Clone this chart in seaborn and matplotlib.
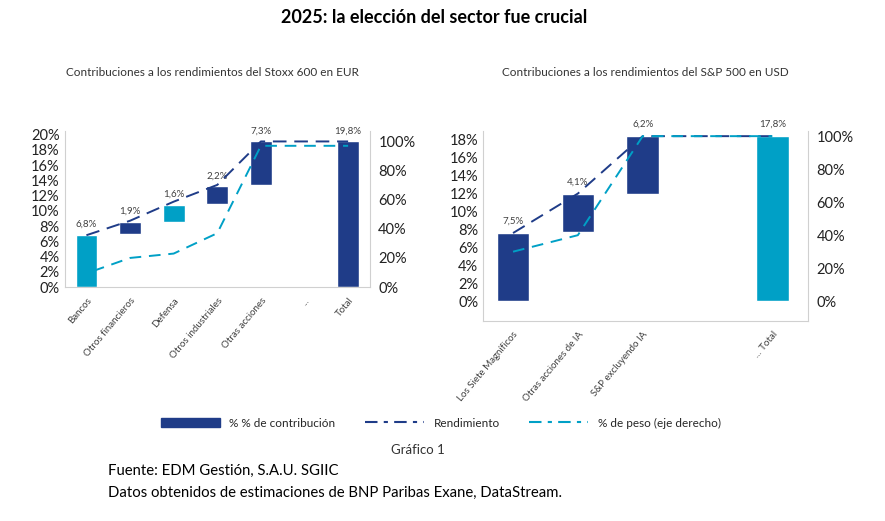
import seaborn as sns
import numpy as np
import matplotlib.pyplot as plt
from matplotlib.lines import Line2D
from matplotlib.patches import Patch

sns.set_style("white")
plt.rcParams['font.family'] = ['Lato', 'DejaVu Sans']

DARK = '#1F3C88'
TEAL = '#00A0C6'
GRAY = '#404040'

# Stoxx 600
eu_cats = ['Bancos', 'Otros financieros', 'Defensa', 'Otros industriales', 'Otras acciones', '...', 'Total']
eu_x = [0, 1, 2, 3, 4, 5, 6]
eu_bottom = [0, 6.9, 8.6, 10.9, 13.4, 0, 0]
eu_top = [6.8, 8.6, 10.8, 13.2, 19.1, 0, 19.1]
eu_color = [TEAL, DARK, TEAL, DARK, DARK, DARK, DARK]
eu_labels = ['6,8%', '1,9%', '1,6%', '2,2%', '7,3%', '', '19,8%']
eu_rend_x = [0, 1, 2, 3, 4, 6]
eu_rend = [6.8, 8.7, 11.2, 13.4, 19.1, 19.1]
eu_peso_x = [0.15, 1, 2, 3, 4, 6]
eu_peso = [11, 20, 23, 37, 97, 97]

# S&P 500
us_cats = ['Los Siete Magníficos', 'Otras acciones de IA', 'S&P excluyendo IA', '... Total']
us_x = [0, 1, 2, 4]
us_bottom = [0, 7.7, 12.0, 0]
us_top = [7.6, 12.0, 18.4, 18.4]
us_color = [DARK, DARK, DARK, TEAL]
us_labels = ['7,5%', '4,1%', '6,2%', '17,8%']
us_rend_x = [0, 1, 2, 4]
us_rend = [7.6, 12.0, 18.4, 18.4]
us_peso_x = [0, 1, 2, 4]
us_peso = [30, 40, 100, 100]

fig = plt.figure(figsize=(8.85, 5.21), dpi=100)


def panel(rect, xs, cats, bottom, top, colors, labels, rx, rend, px, peso,
          ylim, yticks, rmax, xlim, title, ty):
    ax = fig.add_axes(rect)
    heights = np.array(top) - np.array(bottom)
    ax.bar(xs, heights, bottom=bottom, color=colors, width=0.5, zorder=2)
    for x, t, lab in zip(xs, top, labels):
        ax.text(x, t + 0.8, lab, ha='center', va='bottom', fontsize=7, color=GRAY)
    sns.lineplot(x=rx, y=rend, ax=ax, color=DARK, lw=1.4, zorder=3)
    ax.lines[-1].set_dashes([7, 4])
    ax.set_xlim(*xlim)
    ax.set_ylim(*ylim)
    ax.set_yticks(yticks)
    ax.set_yticklabels([f'{v}%' for v in yticks], fontsize=10.5, color='#222')
    ax.set_xticks(xs)
    ax.set_xticklabels(cats, rotation=50, ha='right', rotation_mode='anchor', fontsize=7, color=GRAY)
    ax.tick_params(axis='x', length=3, color='#ccc')
    ax.tick_params(axis='y', length=0)
    ax.spines['top'].set_visible(False)
    for s in ['left', 'right', 'bottom']:
        ax.spines[s].set_color('#d0d0d0')
    ax2 = ax.twinx()
    sns.lineplot(x=px, y=peso, ax=ax2, color=TEAL, lw=1.4)
    ax2.lines[-1].set_dashes([6, 4])
    ax2.set_ylim(ylim[0] / rmax * 100, ylim[1] / rmax * 100)
    ax2.set_yticks([0, 20, 40, 60, 80, 100])
    ax2.set_yticklabels(['0%', '20%', '40%', '60%', '80%', '100%'], fontsize=10.5, color='#222')
    ax2.tick_params(axis='y', length=0, pad=6)
    ax2.set_ylabel('')
    for s in ax2.spines.values():
        s.set_visible(False)
    ax2.set_xlim(*xlim)
    fig.text(rect[0] + rect[2] / 2 + ty, 0.855, title, ha='center', fontsize=8.5, color='#333')
    return ax


panel([0.073, 0.449, 0.345, 0.30], eu_x, eu_cats, eu_bottom, eu_top, eu_color, eu_labels,
      eu_rend_x, eu_rend, eu_peso_x, eu_peso, (0, 20.5), list(range(0, 21, 2)), 19.1,
      (-0.5, 6.5), 'Contribuciones a los rendimientos del Stoxx 600 en EUR', -0.005)
panel([0.546, 0.384, 0.367, 0.365], us_x, us_cats, us_bottom, us_top, us_color, us_labels,
      us_rend_x, us_rend, us_peso_x, us_peso, (-2.2, 19.0), list(range(0, 19, 2)), 18.4,
      (-0.46, 4.55), 'Contribuciones a los rendimientos del S&P 500 en USD', 0.0)

fig.text(0.49, 0.955, '2025: la elección del sector fue crucial', ha='center',
         fontsize=13, fontweight='bold', color='black')

handles = [Patch(color=DARK),
           Line2D([0], [0], color=DARK, lw=1.5, dashes=[6, 3, 2, 3]),
           Line2D([0], [0], color=TEAL, lw=1.5, dashes=[6, 3, 2, 3])]
fig.legend(handles, ['% % de contribución', 'Rendimiento', '% de peso (eje derecho)'],
           loc='center', bbox_to_anchor=(0.498, 0.188), ncol=3, frameon=False,
           fontsize=8.5, handlelength=5, columnspacing=2.5)

fig.text(0.472, 0.128, 'Gráfico 1', ha='center', fontsize=9.5, color='#333')
fig.text(0.122, 0.089, 'Fuente: EDM Gestión, S.A.U. SGIIC', fontsize=10.7, color='black')
fig.text(0.122, 0.047, 'Datos obtenidos de estimaciones de BNP Paribas Exane, DataStream.',
         fontsize=10.7, color='black')

fig.savefig('out.png', dpi=100)
